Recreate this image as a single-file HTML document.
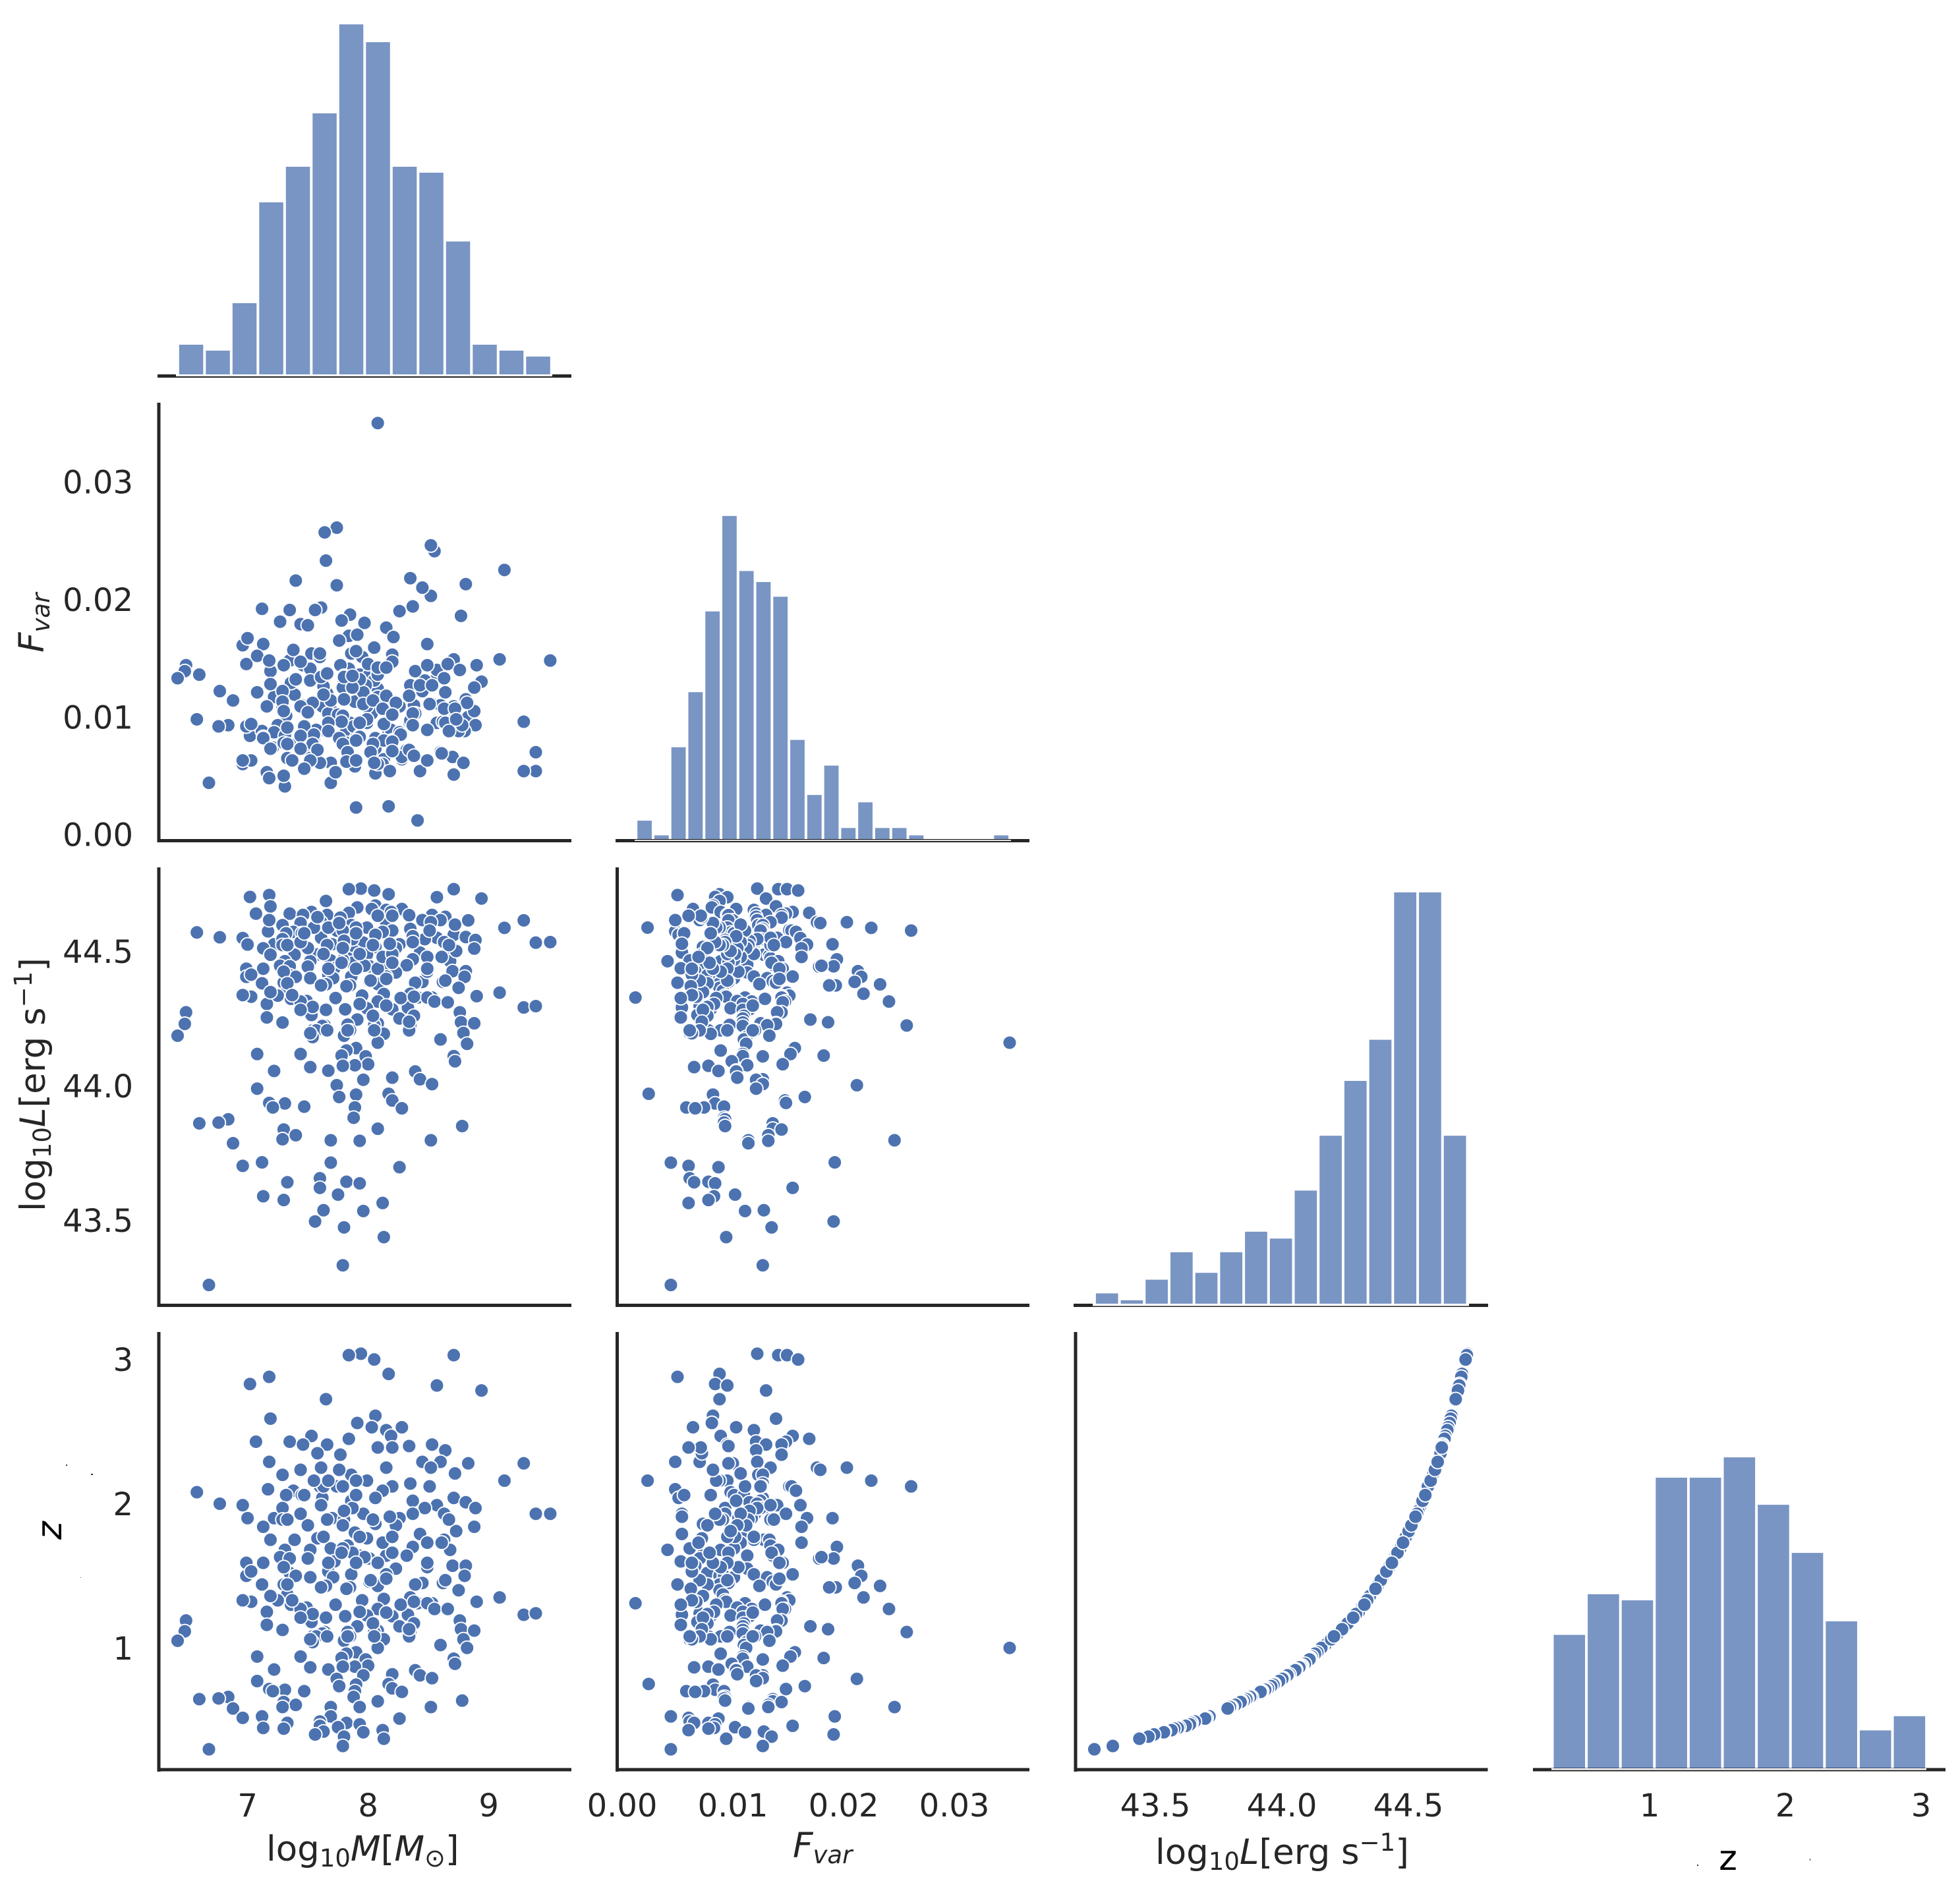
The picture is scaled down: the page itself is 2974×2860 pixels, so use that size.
<!DOCTYPE html>
<html lang="en">
<head>
<meta charset="utf-8">
<title>Corner plot of black hole mass, variability, luminosity and redshift</title>
<style>
html,body{margin:0;padding:0;background:#fff;width:2974px;height:2860px;overflow:hidden}
svg{display:block;position:absolute;left:0;top:0}
text{font-family:"DejaVu Sans","Liberation Sans",sans-serif;fill:#262626}
.tick{font-size:48px}
.lab{font-size:53px}
</style>
</head>
<body>
<svg id="chart" xmlns="http://www.w3.org/2000/svg" width="2974" height="2860" viewBox="0 0 2974 2860">
<rect x="0" y="0" width="2974" height="2860" fill="#ffffff"/>
<g id="marks"></g>
<g id="axes"></g>
<g id="ticks"></g>

<text class="lab" x="404" y="2823">log<tspan font-size="37" dy="9">10</tspan><tspan font-style="italic" dy="-9">M</tspan>[<tspan font-style="italic">M</tspan><tspan font-size="38" dy="9">⊙</tspan><tspan dy="-9">]</tspan></text>
<text class="lab" x="1203" y="2818" font-style="italic">F<tspan font-size="37" dy="9">var</tspan></text>
<text class="lab" x="1753" y="2828">log<tspan font-size="37" dy="9">10</tspan><tspan font-style="italic" dy="-9">L</tspan>[erg s<tspan font-size="37" dy="-20">−1</tspan><tspan dy="20">]</tspan></text>
<text class="lab" x="2622" y="2837" text-anchor="middle" style="fill:#000">z</text>

<text class="lab" transform="translate(66,990) rotate(-90)" font-style="italic">F<tspan font-size="37" dy="9">var</tspan></text>
<text class="lab" transform="translate(68,1838) rotate(-90)">log<tspan font-size="37" dy="9">10</tspan><tspan font-style="italic" dy="-9">L</tspan>[erg s<tspan font-size="37" dy="-20">−1</tspan><tspan dy="20">]</tspan></text>
<text class="lab" transform="translate(93,2336) rotate(-90)" font-style="italic" style="fill:#000">z</text>

<rect x="100" y="2222" width="2" height="2" fill="#333"/>
<rect x="138" y="2236" width="3" height="2" fill="#333"/>
<rect x="122" y="2393" width="1" height="1" fill="#555"/>
<rect x="2575" y="2829" width="2" height="2" fill="#333"/>
<rect x="2746" y="2820" width="1" height="3" fill="#333"/>
</svg>

<script>
/* Source catalogue: one entry per object. */
const massLog = [7.94,7.84,8.71,8.05,8.17,7.18,7.02,8.57,8.94,7.65,8.06,7.19,7.91,8.03,8.28,8.15,7.53,8.19,7.07,7.35,7.84,7.46,7.66,8.53,8.34,8.64,7.77,8.45,8.60,8.83,9.29,7.61,8.15,8.52,7.44,7.29,7.86,7.99,7.90,9.13,8.35,7.60,7.74,8.20,7.17,7.38,8.12,6.58,7.32,7.45,7.62,8.06,8.71,7.86,8.81,6.77,8.57,6.96,8.47,8.89,9.51,9.39,7.96,7.70,8.21,8.26,7.22,7.00,8.06,7.13,8.88,7.89,8.43,7.99,7.58,7.19,7.39,8.63,8.49,7.83,8.37,7.69,7.31,7.52,8.68,7.93,8.15,8.32,7.27,8.01,7.35,7.50,7.97,7.72,6.99,8.70,8.81,8.23,7.67,7.35,8.15,7.86,8.80,6.99,7.40,7.52,7.71,8.01,8.45,8.62,8.39,7.30,7.12,8.08,7.65,7.61,7.85,8.75,7.33,9.09,8.35,8.13,7.25,7.95,8.90,7.03,8.41,8.53,8.49,7.36,7.49,7.44,8.08,8.55,8.66,7.16,7.55,9.29,9.39,8.33,7.99,7.81,8.20,7.65,6.49,8.76,7.53,8.38,7.16,8.26,7.91,8.77,7.29,8.88,8.08,6.48,7.83,8.35,8.05,7.64,7.62,7.54,7.57,7.66,7.85,8.79,8.13,6.42,7.80,7.54,8.60,8.08,8.82,7.90,7.82,7.08,7.44,7.78,8.71,7.98,8.72,8.00,7.89,7.79,7.52,7.67,7.22,8.39,8.20,8.43,7.96,8.53,7.74,7.08,8.17,7.90,7.76,8.20,7.18,7.31,7.47,7.21,7.89,8.28,7.88,6.84,6.76,6.60,8.78,8.08,7.30,7.40,7.29,7.69,8.52,7.93,6.88,7.12,7.69,6.96,8.26,7.60,7.82,7.33,7.93,7.60,7.75,7.13,7.30,8.12,7.63,7.96,7.56,7.80,8.13,7.79,6.68,7.63,7.79,7.87,7.80,7.87,7.61,7.66,8.08,8.15,7.63,8.15,8.34,7.29,7.29,7.80,8.04,8.23,8.51,8.12,8.63,8.72,7.30,7.50,7.79,8.20,8.37,7.78,7.67,7.93,8.37,8.64,8.73,7.33,8.49,7.67,8.67,7.55,7.44,8.27,7.13,7.93,7.76,8.20,7.90,7.33,7.54,7.79,8.04,7.19,7.44,7.58,8.34,8.20,7.83,8.02,8.38,8.61,7.37,7.03,8.49,7.82,7.90,7.52,6.96,8.08,7.47,7.73,8.18,7.18,8.05];
const fvar = [.0122,.0141,.0149,.0159,.0088,.0050,.0084,.0095,.0130,.0088,.0082,.0139,.0081,.0103,.0064,.0119,.0154,.0089,.0121,.0148,.0169,.0144,.0095,.0130,.0096,.0121,.0144,.0122,.0070,.0100,.0096,.0134,.0176,.0203,.0179,.0123,.0127,.0095,.0023,.0225,.0127,.0151,.0261,.0153,.0048,.0157,.0110,.0098,.0101,.0110,.0127,.0052,.0051,.0125,.0115,.0122,.0140,.0161,.0131,.0093,.0148,.0054,.0120,.0105,.0168,.0190,.0117,.0167,.0073,.0162,.0105,.0112,.0054,.0109,.0072,.0128,.0119,.0133,.0162,.0134,.0194,.0061,.0041,.0141,.0089,.0136,.0113,.0072,.0181,.0070,.0191,.0178,.0180,.0053,.0145,.0066,.0213,.0113,.0088,.0077,.0119,.0154,.0088,.0092,.0216,.0131,.0101,.0136,.0210,.0096,.0139,.0050,.0088,.0124,.0233,.0193,.0187,.0088,.0091,.0149,.0218,.0064,.0093,.0151,.0144,.0094,.0012,.0111,.0144,.0129,.0104,.0147,.0117,.0241,.0145,.0109,.0081,.0054,.0070,.0117,.0098,.0115,.0080,.0109,.0144,.0140,.0068,.0110,.0053,.0109,.0170,.0186,.0109,.0125,.0139,.0139,.0073,.0097,.0131,.0257,.0109,.0078,.0089,.0120,.0095,.0061,.0080,.0133,.0133,.0112,.0110,.0350,.0112,.0156,.0089,.0152,.0109,.0182,.0109,.0127,.0099,.0145,.0113,.0078,.0065,.0103,.0087,.0103,.0104,.0127,.0121,.0127,.0212,.0121,.0024,.0082,.0165,.0147,.0148,.0084,.0092,.0074,.0058,.0066,.0092,.0093,.0092,.0136,.0093,.0136,.0144,.0132,.0114,.0114,.0246,.0132,.0114,.0192,.0044,.0060,.0087,.0061,.0078,.0065,.0084,.0154,.0102,.0083,.0078,.0060,.0128,.0111,.0191,.0135,.0094,.0127,.0044,.0126,.0125,.0125,.0134,.0135,.0134,.0137,.0142,.0142,.0119,.0118,.0118,.0122,.0113,.0115,.0114,.0112,.0111,.0107,.0107,.0107,.0105,.0104,.0101,.0102,.0103,.0096,.0095,.0095,.0093,.0095,.0098,.0091,.0089,.0088,.0088,.0085,.0084,.0085,.0082,.0083,.0082,.0079,.0080,.0077,.0077,.0077,.0077,.0073,.0073,.0072,.0072,.0071,.0070,.0070,.0067,.0069,.0063,.0063,.0063,.0062,.0063,.0063,.0063,.0060,.0056,.0053,.0054,.0048,.0061];
const lumLog = [44.733,44.731,44.731,44.726,44.712,44.709,44.702,44.701,44.696,44.687,44.670,44.667,44.663,44.657,44.657,44.654,44.646,44.646,44.640,44.640,44.643,44.635,44.635,44.635,44.634,44.628,44.625,44.616,44.616,44.615,44.615,44.608,44.608,44.608,44.605,44.597,44.597,44.588,44.588,44.587,44.583,44.579,44.577,44.577,44.574,44.572,44.572,44.570,44.567,44.567,44.561,44.561,44.561,44.558,44.553,44.552,44.550,44.549,44.545,44.542,44.534,44.532,44.532,44.526,44.526,44.526,44.526,44.525,44.516,44.511,44.510,44.499,44.495,44.488,44.488,44.487,44.487,44.484,44.479,44.474,44.470,44.466,44.463,44.463,44.463,44.450,44.450,44.448,44.446,44.444,44.444,44.443,44.446,44.437,44.435,44.426,44.426,44.421,44.413,44.411,44.406,44.406,44.405,44.405,44.405,44.400,44.400,44.389,44.386,44.386,44.383,44.383,44.381,44.378,44.377,44.373,44.373,44.364,44.353,44.346,44.342,44.341,44.335,44.335,44.333,44.331,44.328,44.328,44.328,44.323,44.315,44.313,44.313,44.313,44.310,44.304,44.293,44.291,44.296,44.290,44.288,44.284,44.284,44.282,44.273,44.273,44.263,44.260,44.254,44.250,44.246,44.236,44.235,44.232,44.232,44.230,44.227,44.226,44.225,44.224,44.222,44.206,44.206,44.206,44.206,44.196,44.193,44.186,44.186,44.181,44.172,44.160,44.156,44.140,44.131,44.118,44.118,44.112,44.110,44.109,44.091,44.080,44.076,44.074,44.069,44.056,44.055,44.053,44.030,44.024,44.022,44.006,44.002,43.989,43.970,43.967,43.958,43.945,43.936,43.934,43.922,43.919,43.919,43.916,43.881,43.875,43.863,43.860,43.850,43.840,43.837,43.816,43.801,43.797,43.797,43.795,43.786,43.715,43.714,43.702,43.697,43.656,43.643,43.641,43.637,43.620,43.595,43.589,43.575,43.564,43.537,43.534,43.495,43.473,43.437,43.332,43.259,44.577,44.577,44.545,44.523,44.457,44.550,44.523,44.435,44.397,44.490,44.298,44.206,44.545,44.523,44.539,44.523,44.512,44.577,44.479,44.534,44.599,44.424,44.512,44.468,44.490,44.556,44.457,44.435,44.490,44.534,44.391,44.501,44.523,44.424,44.588,44.523,44.588,44.534,44.326,44.435,44.304,44.605,44.457,44.567,44.381,44.293,44.512,44.260,44.348,44.282,44.627,44.238,44.632,44.206,44.391,44.331,44.479,44.337,44.413,44.435,44.370,44.435,44.195,44.337,44.632,44.567,44.326,44.528,44.616,44.206];
const redshift = [3.04,3.03,3.03,3.00,2.90,2.88,2.83,2.82,2.785,2.725,2.61,2.59,2.56,2.53,2.53,2.51,2.47,2.47,2.43,2.43,2.45,2.41,2.41,2.41,2.40,2.37,2.34,2.29,2.29,2.28,2.28,2.25,2.25,2.25,2.235,2.20,2.20,2.16,2.16,2.16,2.14,2.12,2.12,2.12,2.10,2.09,2.09,2.08,2.06,2.06,2.04,2.04,2.04,2.02,2.01,2.00,1.99,1.99,1.97,1.97,1.93,1.93,1.93,1.90,1.90,1.90,1.90,1.90,1.86,1.84,1.84,1.80,1.79,1.76,1.76,1.75,1.75,1.75,1.73,1.71,1.70,1.69,1.68,1.68,1.68,1.64,1.64,1.64,1.63,1.62,1.62,1.62,1.63,1.60,1.59,1.57,1.57,1.55,1.53,1.52,1.51,1.51,1.50,1.50,1.50,1.49,1.49,1.46,1.45,1.45,1.44,1.44,1.44,1.43,1.43,1.42,1.42,1.40,1.37,1.35,1.35,1.34,1.33,1.33,1.32,1.32,1.31,1.31,1.31,1.30,1.28,1.27,1.27,1.27,1.27,1.25,1.235,1.23,1.24,1.23,1.225,1.22,1.22,1.21,1.19,1.19,1.18,1.17,1.16,1.15,1.15,1.13,1.125,1.12,1.12,1.115,1.11,1.11,1.11,1.11,1.10,1.08,1.08,1.08,1.08,1.06,1.06,1.05,1.05,1.04,1.02,1.00,1.00,.97,.96,.94,.94,.93,.925,.92,.89,.877,.87,.87,.865,.85,.85,.845,.817,.81,.81,.79,.785,.77,.75,.745,.735,.72,.715,.71,.70,.70,.70,.695,.66,.66,.65,.645,.635,.63,.625,.605,.59,.59,.59,.59,.58,.525,.525,.515,.51,.49,.48,.48,.47,.46,.45,.445,.44,.43,.42,.415,.40,.385,.37,.32,.297,2.12,2.12,1.97,1.89,1.66,1.99,1.89,1.59,1.48,1.77,1.245,1.08,1.97,1.89,1.95,1.89,1.85,2.12,1.73,1.93,2.21,1.56,1.85,1.69,1.77,2.02,1.66,1.59,1.77,1.93,1.47,1.81,1.89,1.56,2.16,1.89,2.16,1.93,1.30,1.59,1.25,2.235,1.66,2.06,1.44,1.235,1.85,1.17,1.36,1.21,2.35,1.13,2.39,1.08,1.47,1.32,1.73,1.33,1.53,1.59,1.41,1.59,1.06,1.33,2.39,2.06,1.30,1.91,2.29,1.08];

/* Histogram bin counts */
const massCounts = [5,4,12,29,35,44,59,56,35,34,22.4,5,4,3];
const fvarCounts = [5,1,25,40,62,88,73,70,66,27,12,20,3,10,3,3,1,0,0,0,0,1];
const lumCounts = [3,1,7,15,9,15,21,19,33,49,65,77,120,120,49];
const zCounts = [19.6,25.6,24.7,42.8,42.8,45.8,38.8,31.7,21.6,5.5,7.6];

/* Tick labels */
const massTicks = [7,8,9];
const fvarTicks = [0,0.01,0.02,0.03];
const lumTicks = [43.5,44,44.5];
const zTicks = [1,2,3];

/* Axis functions */
const xMass = v => 558.6 + 183 * (v - 8);
const xFvar = v => 944 + 16800 * v;
const xLum = v => 1753 + 384 * (v - 43.5);
const xZ = v => 2503 + 206 * (v - 1);
const yFvar = v => 1266.2 - 17838 * v;
const yLum = v => 1647.3 - 408 * (v - 44);
const yZ = v => 2500.3 - 218.8 * (v - 1);

const NS = 'http://www.w3.org/2000/svg';
const marks = document.getElementById('marks');
const axes = document.getElementById('axes');
const ticks = document.getElementById('ticks');

function addRect(parent, x, y, w, h, fill) {
  const r = document.createElementNS(NS, 'rect');
  r.setAttribute('x', x);
  r.setAttribute('y', y);
  r.setAttribute('width', w);
  r.setAttribute('height', h);
  r.setAttribute('fill', fill);
  parent.appendChild(r);
  return r;
}

function spine(x, y, w, h, name) {
  const r = addRect(axes, x, y, w, h, '#262626');
  
  
}

function scatter(xs, ys, xFn, yFn, name) {
  const g = document.createElementNS(NS, 'g');
  
  
  for (let i = 0; i < xs.length; i++) {
    const c = document.createElementNS(NS, 'circle');
    c.setAttribute('cx', xFn(xs[i]).toFixed(1));
    c.setAttribute('cy', yFn(ys[i]).toFixed(1));
    c.setAttribute('r', 10.5);
    c.setAttribute('fill', '#4c72b0');
    c.setAttribute('stroke', '#ffffff');
    c.setAttribute('stroke-width', 1.9);
    
    
    g.appendChild(c);
  }
  marks.appendChild(g);
}

function hist(counts, start, width, xFn, base, unit, stripH, name) {
  const g = document.createElementNS(NS, 'g');
  
  
  for (let i = 0; i < counts.length; i++) {
    const left = xFn(start + i * width);
    const right = xFn(start + (i + 1) * width);
    const h = counts[i] * unit;
    if (h > 0) {
      const b = addRect(g, left + 2, base - h, right - left - 4, h, '#7995c4');
      
      
    }
    if (stripH > 0) {
      const s = addRect(g, left + 2, base, right - left - 4, stripH, h > 0 ? '#3f5f95' : '#262626');
      
      
    }
  }
  marks.appendChild(g);
}

function tickText(x, y, anchor, str, name) {
  const t = document.createElementNS(NS, 'text');
  t.setAttribute('x', x.toFixed(1));
  t.setAttribute('y', y.toFixed(1));
  t.setAttribute('text-anchor', anchor);
  t.setAttribute('class', 'tick');
  
  
  t.textContent = str;
  ticks.appendChild(t);
}

/* Spines (under the histograms) */
spine(239, 568, 628, 5, 'mass-histogram-baseline');
spine(934, 1273, 628, 5, 'fvar-histogram-baseline');
spine(1629, 1978, 629, 5, 'luminosity-histogram-baseline');
spine(2326, 2682.5, 626, 5, 'z-histogram-baseline');
const clearRows = [[267, 568, 571, 3], [963, 1274.3, 571, 1.7], [1658, 1978, 571, 3.5], [2354, 2683, 569, 2.5]];
clearRows.forEach(function (c) {
  const r = addRect(axes, c[0], c[1], c[2], c[3], '#ffffff');
  
  
});

/* Scatter spines */
spine(238.5, 611, 5, 667, 'left-spine-fvar-row');
spine(238.5, 1273, 628.5, 5, 'bottom-spine-mass-fvar');
spine(238.5, 1316, 5, 667, 'left-spine-luminosity-row');
spine(238.5, 1978, 628.5, 5, 'bottom-spine-mass-luminosity');
spine(934, 1316, 5, 667, 'left-spine-fvar-luminosity');
spine(934, 1978, 628, 5, 'bottom-spine-fvar-luminosity');
spine(238.5, 2021, 5, 667, 'left-spine-z-row');
spine(238.5, 2682.5, 628.5, 5, 'bottom-spine-mass-z');
spine(934, 2021, 5, 667, 'left-spine-fvar-z');
spine(934, 2682.5, 628, 5, 'bottom-spine-fvar-z');
spine(1629.5, 2021, 5, 667, 'left-spine-luminosity-z');
spine(1629.5, 2682.5, 628, 5, 'bottom-spine-luminosity-z');

/* Diagonal histograms */
hist(massCounts, 6.422, 0.2213, xMass, 568, 9, 0, 'mass-histogram');
hist(fvarCounts, 0.00126, 0.001534, xFvar, 1273, 5.57, 1.3, 'fvar-histogram');
hist(lumCounts, 43.26, 0.0982, xLum, 1978, 5.2, 0, 'luminosity-histogram');
hist(zCounts, 0.284, 0.2505, xZ, 2682, 10.28, 1, 'z-histogram');

/* Lower-triangle scatter panels */
scatter(massLog, fvar, xMass, yFvar, 'scatter-mass-fvar');
scatter(massLog, lumLog, xMass, yLum, 'scatter-mass-luminosity');
scatter(fvar, lumLog, xFvar, yLum, 'scatter-fvar-luminosity');
scatter(massLog, redshift, xMass, yZ, 'scatter-mass-z');
scatter(fvar, redshift, xFvar, yZ, 'scatter-fvar-z');
scatter(lumLog, redshift, xLum, yZ, 'scatter-luminosity-z');

/* Tick labels */
fvarTicks.forEach(function (v) { tickText(202, yFvar(v) + 17.5, 'end', v.toFixed(2), 'y-tick-fvar'); });
lumTicks.forEach(function (v) { tickText(202, yLum(v) + 17.5, 'end', v.toFixed(1), 'y-tick-luminosity'); });
zTicks.forEach(function (v) { tickText(202, yZ(v) + 17.5, 'end', String(v), 'y-tick-z'); });
massTicks.forEach(function (v) { tickText(xMass(v), 2756, 'middle', String(v), 'x-tick-mass'); });
fvarTicks.forEach(function (v) { tickText(xFvar(v), 2756, 'middle', v.toFixed(2), 'x-tick-fvar'); });
lumTicks.forEach(function (v) { tickText(xLum(v), 2756, 'middle', v.toFixed(1), 'x-tick-luminosity'); });
zTicks.forEach(function (v) { tickText(xZ(v), 2756, 'middle', String(v), 'x-tick-z'); });
</script>
</body>
</html>
